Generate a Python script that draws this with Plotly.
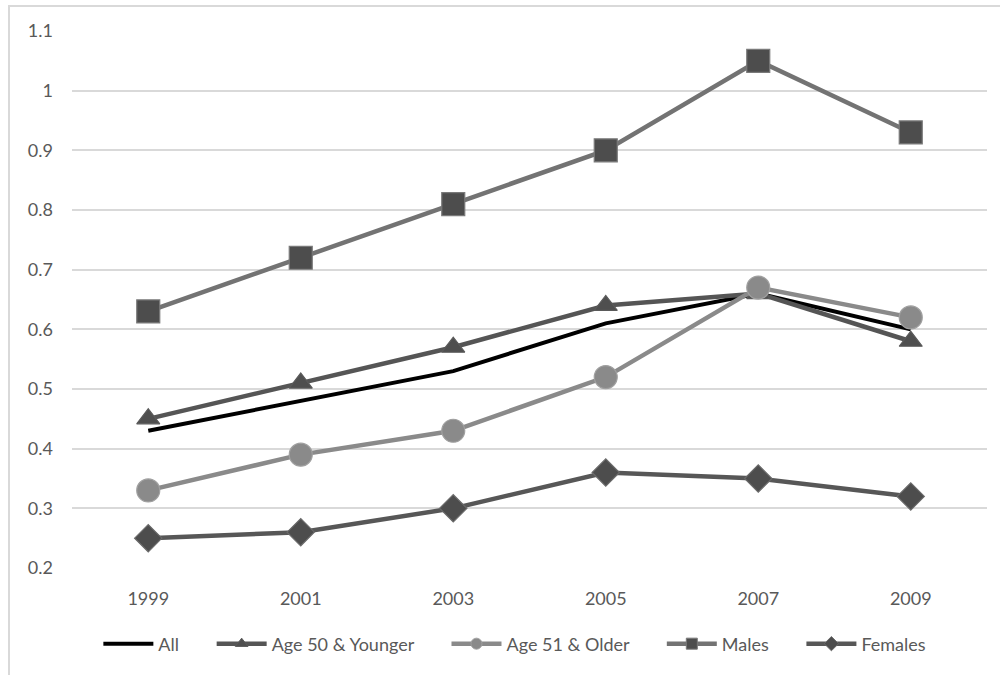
import plotly.graph_objects as go

years = ["1999", "2001", "2003", "2005", "2007", "2009"]
all_vals = [0.43, 0.48, 0.53, 0.61, 0.66, 0.60]
age50_younger = [0.45, 0.51, 0.57, 0.64, 0.66, 0.58]
age51_older = [0.33, 0.39, 0.43, 0.52, 0.67, 0.62]
males = [0.63, 0.72, 0.81, 0.90, 1.05, 0.93]
females = [0.25, 0.26, 0.30, 0.36, 0.35, 0.32]
y_ticks = [0.2, 0.3, 0.4, 0.5, 0.6, 0.7, 0.8, 0.9, 1.0, 1.1]
y_tick_text = ["0.2", "0.3", "0.4", "0.5", "0.6", "0.7", "0.8", "0.9", "1", "1.1"]

# (name, values, line colour, line width, marker symbol, marker size, fill, edge)
series = [
    ("All", all_vals, "#000000", 4, None, 0, None, None),
    ("Age 50 & Younger", age50_younger, "#555555", 4.5, "triangle-up", 20, "#4f4f4f", "#5a5a5a"),
    ("Age 51 & Older", age51_older, "#8a8a8a", 4.5, "circle", 23, "#8a8a8a", "#a0a0a0"),
    ("Males", males, "#737373", 4.5, "square", 23, "#4d4d4d", "#7a7a7a"),
    ("Females", females, "#575757", 4.5, "diamond", 21, "#4d4d4d", "#6a6a6a"),
]

fig = go.Figure()

for name, vals, lc, lw, sym, ms, fc, ec in series:
    mode = "lines+markers" if sym else "lines"
    marker = dict(symbol=sym, size=ms, color=fc, line=dict(color=ec, width=1.2)) if sym else None
    fig.add_trace(go.Scatter(
        x=years, y=vals, name=name, mode=mode, showlegend=False,
        line=dict(color=lc, width=lw), marker=marker,
    ))

# Legend entries with small sample markers; non-breaking spaces widen the gap between entries
pad = "\u00a0" * 6
for i, (name, vals, lc, lw, sym, ms, fc, ec) in enumerate(series):
    mode = "lines+markers" if sym else "lines"
    marker = dict(symbol=sym, size=11, color=fc, line=dict(color=ec, width=1)) if sym else None
    label = name + (pad if i < len(series) - 1 else "")
    fig.add_trace(go.Scatter(
        x=[None], y=[None], name=label, mode=mode, showlegend=True,
        line=dict(color=lc, width=lw), marker=marker,
    ))

fig.update_layout(
    width=1000, height=675,
    margin=dict(l=72, r=13, t=31, b=107),
    paper_bgcolor="white", plot_bgcolor="white",
    font=dict(family="Lato, Open Sans, sans-serif", size=18, color="#595959"),
    showlegend=True,
    legend=dict(
        orientation="h", x=0.484, xanchor="center", y=-0.107, yanchor="top",
        font=dict(size=18, color="#595959"), tracegroupgap=0, itemwidth=50,
    ),
    xaxis=dict(
        type="category", range=[-0.5, 5.5], showgrid=False, zeroline=False,
        showline=False, ticks="", tickfont=dict(size=18, color="#595959"),
        ticklabelstandoff=18,
    ),
    yaxis=dict(
        range=[0.2, 1.1], tickvals=y_ticks, ticktext=y_tick_text,
        showgrid=True, gridcolor="#d9d9d9", gridwidth=1.5, zeroline=False,
        showline=False, ticks="", tickfont=dict(size=18, color="#595959"),
        ticklabelstandoff=18,
    ),
    shapes=[dict(
        type="rect", xref="paper", yref="paper",
        x0=-63 / 915, x1=1.2, y0=-0.3, y1=1 + 25 / 537,
        line=dict(color="#d9d9d9", width=2), fillcolor="rgba(0,0,0,0)",
        layer="below",
    )],
)

fig.write_html("out.html")
